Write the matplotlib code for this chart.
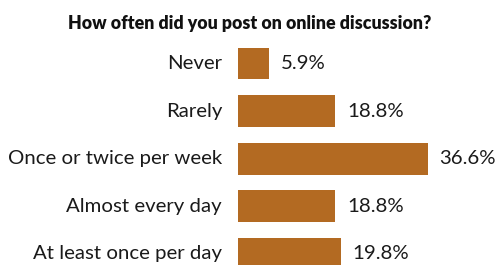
import matplotlib
matplotlib.use("Agg")
import matplotlib.pyplot as plt

categories = ["Never", "Rarely", "Once or twice per week", "Almost every day", "At least once per day"]
values = [5.9, 18.8, 36.6, 18.8, 19.8]
value_labels = ["5.9%", "18.8%", "36.6%", "18.8%", "19.8%"]
title = "How often did you post on online discussion?"

W, H = 503, 265
fig = plt.figure(figsize=(W / 100, H / 100), dpi=100)
ax = fig.add_axes([238 / W, 0, 1 - 238 / W, (H - 40) / H])

color = "#B36A22"
ypos = list(range(len(categories)))
ax.barh(ypos, values, height=0.67, color=color)
ax.set_xlim(0, 265 / 5.18)
ax.set_ylim(4.231, -0.493)
ax.axis("off")

font = "Lato"
for y, c, v, lab in zip(ypos, categories, values, value_labels):
    ax.annotate(c, (0, y), xytext=(-11.5, 0), textcoords="offset points",
                ha="right", va="center", fontsize=14.7, family=font, color="#1a1a1a")
    ax.annotate(lab, (v, y), xytext=(8.5, 0), textcoords="offset points",
                ha="left", va="center", fontsize=14.7, family=font, color="#1a1a1a")

t = fig.text(250 / W, 1 - 23 / H, title, ha="center", va="center", fontsize=12.8,
             fontweight="heavy", family="Lato", color="#111111")

fig.savefig("out.png", dpi=100)
